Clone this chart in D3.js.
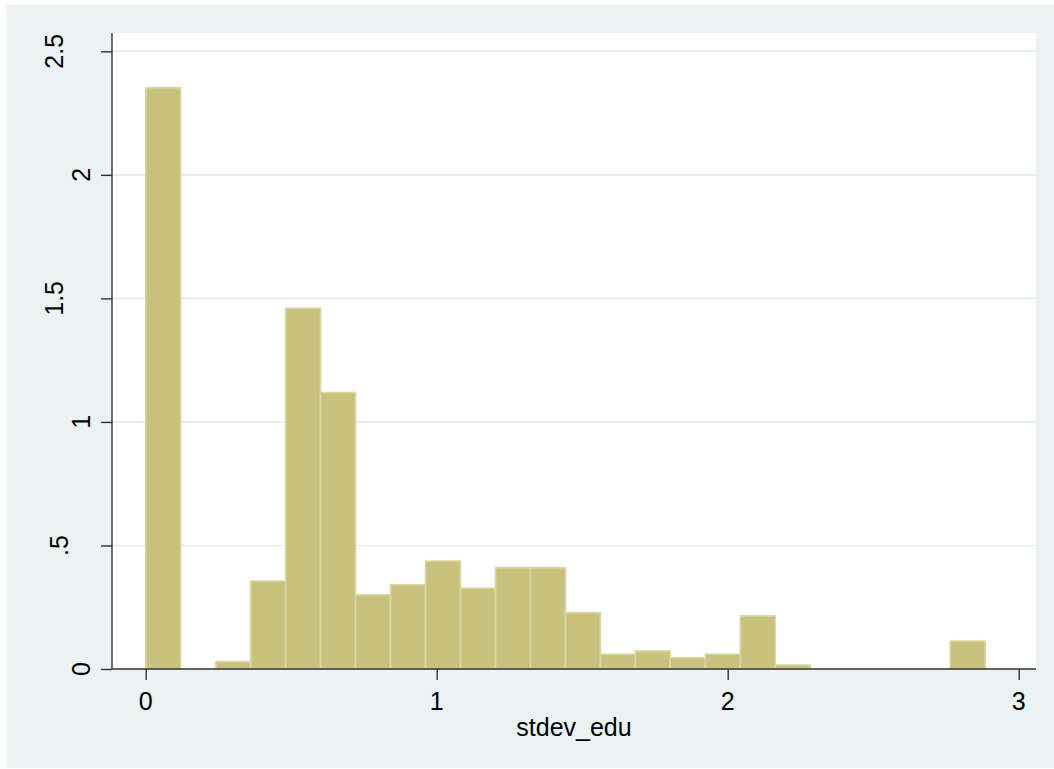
<!DOCTYPE html>
<html lang="en">
<head>
<meta charset="utf-8">
<script src="https://d3js.org/d3.v7.min.js"></script>
<style>
    body { margin: 0; background: #fff; }
    text { font-family: 'Liberation Sans', Arial, sans-serif; fill: #000; }
</style>
</head>
<body>
<script>
    // histogram of stdev_edu (density), 24 bins starting at 0
    var binStart = 0, binWidth = 0.1202;
    var density = [2.353, 0, 0.030, 0.356, 1.460, 1.119, 0.300, 0.341, 0.437, 0.327,
                   0.410, 0.410, 0.228, 0.060, 0.073, 0.046, 0.060, 0.215, 0.016,
                   0, 0, 0, 0, 0.113];
    var xTicks = [0, 1, 2, 3];
    var yTicks = [0, 0.5, 1, 1.5, 2, 2.5];
    var yTickLabels = ['0', '.5', '1', '1.5', '2', '2.5'];
    var xTitle = 'stdev_edu';

    var width = 1054, height = 769;
    var plot = {left: 112, right: 1036, top: 33, bottom: 669};

    var svg = d3.select('body').append('svg').attr('width', width).attr('height', height);

    // graph region background
    svg.append('rect').attr('x', 7).attr('y', 5).attr('width', width - 7).attr('height', 763)
        .attr('fill', '#eaf2f3');
    svg.append('rect').attr('x', plot.left).attr('y', plot.top)
        .attr('width', plot.right - plot.left).attr('height', plot.bottom - plot.top)
        .attr('fill', '#fff');

    var x = d3.scaleLinear().domain([0, 3]).range([145.7, 1018.7]);
    var y = d3.scaleLinear().domain([0, 2.5]).range([669, 51.3]);

    // gridlines
    svg.append('g').selectAll('line')
        .data(yTicks.filter(function(d) { return d > 0; }))
        .join('line')
        .attr('x1', plot.left).attr('x2', plot.right)
        .attr('y1', function(d) { return y(d); }).attr('y2', function(d) { return y(d); })
        .attr('stroke', '#e3ecef').attr('stroke-width', 1.6);

    // bars
    var bins = density.map(function(v, i) {
        return {x0: binStart + i * binWidth, x1: binStart + (i + 1) * binWidth, v: v};
    }).filter(function(d) { return d.v > 0; });

    svg.append('g').selectAll('rect')
        .data(bins)
        .join('rect')
        .attr('x', function(d) { return x(d.x0); })
        .attr('width', function(d) { return x(d.x1) - x(d.x0); })
        .attr('y', function(d) { return y(d.v); })
        .attr('height', function(d) { return y(0) - y(d.v); })
        .attr('fill', '#c9c27f')
        .attr('stroke', '#dbd7a3')
        .attr('stroke-width', 1.6);

    // y axis
    var yAxis = d3.axisLeft(y).tickValues(yTicks).tickSize(11).tickFormat('');
    var gy = svg.append('g').attr('transform', 'translate(' + plot.left + ',0)').call(yAxis);
    gy.select('.domain').attr('d', 'M0,' + plot.top + 'V' + plot.bottom);
    gy.selectAll('line, path').attr('stroke', '#333').attr('stroke-width', 1.4);

    // rotated y labels, Stata pushes longer labels further out
    function labelBase(s) { return s.length === 1 ? 90 : (s.length === 2 ? 68 : 63); }
    svg.append('g').selectAll('text')
        .data(yTicks)
        .join('text')
        .attr('transform', function(d, i) {
            return 'translate(' + labelBase(yTickLabels[i]) + ',' + y(d) + ') rotate(-90)';
        })
        .attr('text-anchor', 'middle')
        .style('font-size', '25px')
        .text(function(d, i) { return yTickLabels[i]; });

    // x axis
    var xAxis = d3.axisBottom(x).tickValues(xTicks).tickSize(11).tickFormat('');
    var gx = svg.append('g').attr('transform', 'translate(0,' + plot.bottom + ')').call(xAxis);
    gx.select('.domain').attr('d', 'M' + plot.left + ',0H' + plot.right);
    gx.selectAll('line, path').attr('stroke', '#333').attr('stroke-width', 1.4);

    svg.append('g').selectAll('text')
        .data(xTicks)
        .join('text')
        .attr('x', function(d) { return x(d); })
        .attr('y', 710)
        .attr('text-anchor', 'middle')
        .style('font-size', '25px')
        .text(function(d) { return d; });

    svg.append('text')
        .attr('x', (plot.left + plot.right) / 2)
        .attr('y', 736)
        .attr('text-anchor', 'middle')
        .style('font-size', '25px')
        .text(xTitle);
</script>
</body>
</html>
